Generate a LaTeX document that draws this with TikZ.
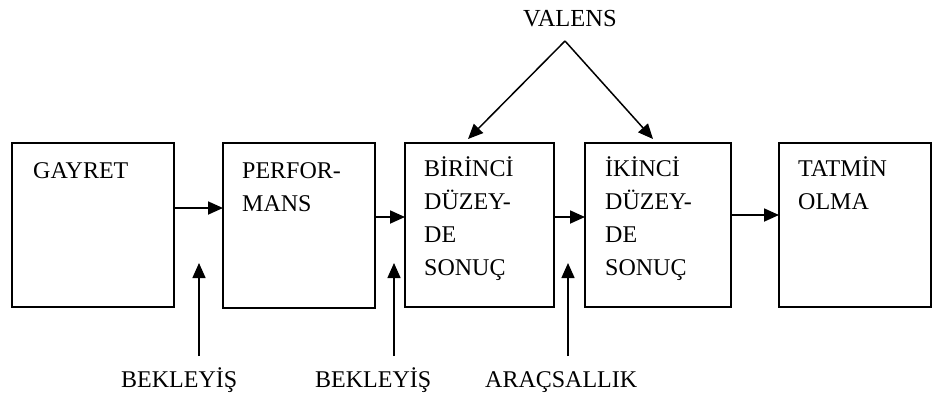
\documentclass[tikz,border=0pt]{standalone}
\usepackage{fontspec}
\setmainfont{Liberation Serif}
\usetikzlibrary{arrows.meta}
\begin{document}
\begin{tikzpicture}[x=1pt,y=-1pt,
  box/.style={draw,line width=2pt},
  arr/.style={line width=1.8pt,-{Triangle[length=15pt,width=13pt]}},
  thin arr/.style={line width=1.5pt,-{Triangle[length=15pt,width=13pt]}},
  lbl/.style={anchor=base west,inner sep=0pt,font=\fontsize{24}{33}\selectfont},
  stack/.style={anchor=north west,inner sep=0pt,font=\fontsize{24}{33}\selectfont,align=left}]
\useasboundingbox (0,0) rectangle (933,400);

% stages of the chain
\draw[box] (12,143) rectangle (174,307);
\draw[box] (223,143) rectangle (375,308);
\draw[box] (405,143) rectangle (554,307);
\draw[box] (585,143) rectangle (731,307);
\draw[box] (779,143) rectangle (931,307);
\coordinate (g) at (174,208);
\coordinate (p) at (223,208);
\coordinate (p2) at (375,217);
\coordinate (b) at (405,217);
\coordinate (b2) at (554,217);
\coordinate (i) at (585,217);
\coordinate (i2) at (731,215);
\coordinate (t) at (779,215);

\node[lbl] (gt) at (33,178) {GAYRET};
\node[lbl] (pt) at (242,178) {PERFOR-};
\node[lbl] at (242,211) {MANS};
\node[lbl] (bt) at (424,176) {BİRİNCİ};
\node[lbl] at (424,209) {DÜZEY-};
\node[lbl] at (424,242) {DE};
\node[lbl] at (424,275) {SONUÇ};
\node[lbl] (it) at (605,176) {İKİNCİ};
\node[lbl] at (605,209) {DÜZEY-};
\node[lbl] at (605,242) {DE};
\node[lbl] at (605,275) {SONUÇ};
\node[lbl] (tt) at (798,176) {TATMİN};
\node[lbl] at (798,209) {OLMA};

% forward links
\draw[arr] (g) -- (p);
\draw[arr] (p2) -- (b);
\draw[arr] (b2) -- (i);
\draw[arr] (i2) -- (t);

% moderating factors from below
\coordinate (e1s) at (199,356);
\coordinate (e1t) at (199,263);
\coordinate (e2s) at (394,356);
\coordinate (e2t) at (394,263);
\coordinate (a1s) at (568,356);
\coordinate (a1t) at (568,263);
\draw[thin arr] (e1s) -- (e1t);
\draw[thin arr] (e2s) -- (e2t);
\draw[thin arr] (a1s) -- (a1t);
\node[lbl] (e1) at (121,387) {BEKLEYİŞ};
\node[lbl] (e2) at (315,387) {BEKLEYİŞ};
\node[lbl] (a1) at (485,387) {ARAÇSALLIK};

% valence from above
\node[lbl,font=\fontsize{24.5}{33}\selectfont] (v) at (523,26) {VALENS};
\coordinate (vt) at (565,41);
\coordinate (vb) at (468,139);
\coordinate (vi) at (653,139);
\draw[thin arr] (vt) -- (vb);
\draw[thin arr] (vt) -- (vi);
\end{tikzpicture}
\end{document}
